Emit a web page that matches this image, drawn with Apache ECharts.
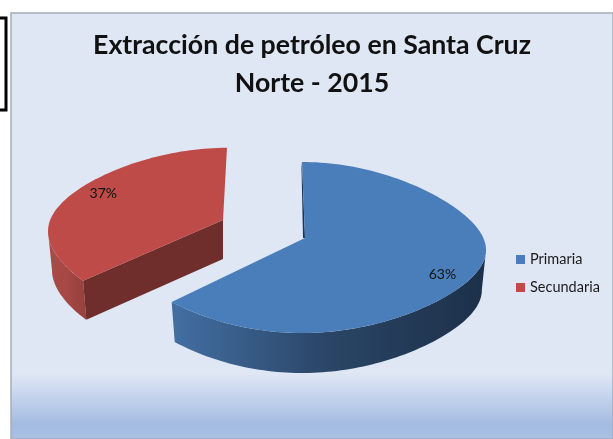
<!DOCTYPE html>
<html><head><meta charset="utf-8">
<style>html,body{margin:0;padding:0;background:#fff}#c{width:613px;height:439px}</style>
<script src="https://cdn.jsdelivr.net/npm/echarts@6/dist/echarts.min.js"></script>
</head><body><div id="c"></div>
<script>
const categories = ['Primaria', 'Secundaria'];
const percentValues = [63, 37];
const titleText = 'Extracción de petróleo en Santa Cruz\nNorte - 2015';

const colors = ['#4A7EBB', '#BE4B48'];
const sliceLook = [
  {cx:305, cy:238, sx:181, sy:1, shearA:0, shearB:-3, depth:40, labelR:0.83, labelDy:3,
   side:['#436fa3','#2a4566','#1c3049'], inner:'#1d3552', z:2},
  {cx:223, cy:220, sx:175, sy:0.95, shearA:-18, shearB:-14, depth:39, labelR:0.74, labelDy:-14,
   side:['#a94b46','#a54843','#96403c'], inner:'#6f2d2b', z:1}
];
const total = percentValues.reduce((a,b)=>a+b,0);

function rim(look, deg){
  const a = deg*Math.PI/180, s = Math.sin(a), t = -Math.cos(a);
  return [
    look.cx + look.sx*s + look.shearA*t*t*t + look.shearB*t*t,
    look.cy + look.sy*(12 + 70.7*t - 2.5*t*t + 14.8*t*t*t)
  ];
}
function lower(look, p){
  return [look.cx + (p[0]-look.cx)*0.977, p[1]+look.depth];
}
function arc(look, from, to){
  const pts=[], n=Math.max(2,Math.ceil(Math.abs(to-from)/1.5));
  for(let i=0;i<=n;i++) pts.push(rim(look, from+(to-from)*i/n));
  return pts;
}
function sliceAngles(idx){
  let start = 0;
  for(let i=0;i<idx;i++) start += percentValues[i]/total*360;
  return [start, start + percentValues[idx]/total*360];
}
function grad(stops){
  return new echarts.graphic.LinearGradient(0,0,1,0,
    stops.map((c,i)=>({offset:i/(stops.length-1), color:c})));
}
function renderSlice(idx){
  return function(params, api){
    const look = sliceLook[idx], [a0,a1] = sliceAngles(idx);
    const apex = [look.cx, look.cy];
    const top = arc(look, a0, a1);
    const children = [];
    // visible outer wall: rim between the two silhouette extremes (3 and 9 o'clock)
    const w0 = Math.max(a0, 90), w1 = Math.min(a1, 270);
    const wall = arc(look, w0, w1);
    children.push({type:'polygon', shape:{points: wall.concat(wall.map(p=>lower(look,p)).reverse())},
      style:{fill:grad(look.side)}});
    if(idx===0){
      // thin sliver of the cut face seen next to the 12 o'clock edge
      const p = rim(look,a0);
      children.push({type:'polygon', shape:{points:[p,apex,[apex[0]-2,apex[1]],[p[0]-0.5,p[1]+6]]},
        style:{fill:look.inner}});
    } else {
      // cut face towards the viewer
      const p = rim(look,a0);
      const low = lower(look,apex);
      children.push({type:'polygon', shape:{points:[apex,p,lower(look,p),low]},
        style:{fill:look.inner}});
    }
    children.push({type:'polygon', shape:{points:[apex].concat(top)},
      style:{fill:colors[idx]}});
    const mid = (a0+a1)/2, m = rim(look,mid);
    children.push({type:'text', style:{
      x: look.cx+(m[0]-look.cx)*look.labelR,
      y: look.cy+(m[1]-look.cy)*look.labelR+look.labelDy,
      text: api.value(0)+'%', fill:'#111', font:'14px Lato, "Open Sans", sans-serif',
      align:'center', verticalAlign:'middle'}});
    return {type:'group', children};
  };
}

const chart = echarts.init(document.getElementById('c'), null, {renderer:'canvas'});
chart.setOption({
  animation:false,
  graphic:[
    {type:'rect', z:-10, shape:{x:11,y:13,width:602,height:426},
      style:{fill:new echarts.graphic.LinearGradient(0,0,0,1,[
        {offset:0,color:'#DFE7F5'},{offset:0.845,color:'#DFE7F5'},
        {offset:0.965,color:'#A3BBE2'},{offset:1,color:'#ABC1E5'}]),
        stroke:'#A6ADB6', lineWidth:1.5}},
    {type:'rect', z:-10, shape:{x:-6,y:18,width:12,height:92},
      style:{fill:'#fff',stroke:'#000',lineWidth:3}}
  ],
  title:{text:titleText, left:307, top:21, textAlign:'center',
    textStyle:{fontFamily:'Lato, "Open Sans", sans-serif', fontWeight:'bold', fontSize:26.7, lineHeight:38, color:'#111'}},
  legend:{orient:'vertical', left:511, top:247, data:categories, itemWidth:9, itemHeight:9, itemGap:13,
    icon:'rect',
    textStyle:{fontFamily:'Lato, "Open Sans", sans-serif', fontSize:14.5, color:'#1a1a1a'}},
  series: categories.map((name,i)=>({
    type:'custom', name, coordinateSystem:'none', z:sliceLook[i].z,
    color:colors[i], itemStyle:{color:colors[i]},
    renderItem:renderSlice(i), data:[[percentValues[i]]], silent:true
  }))
});
</script></body></html>
